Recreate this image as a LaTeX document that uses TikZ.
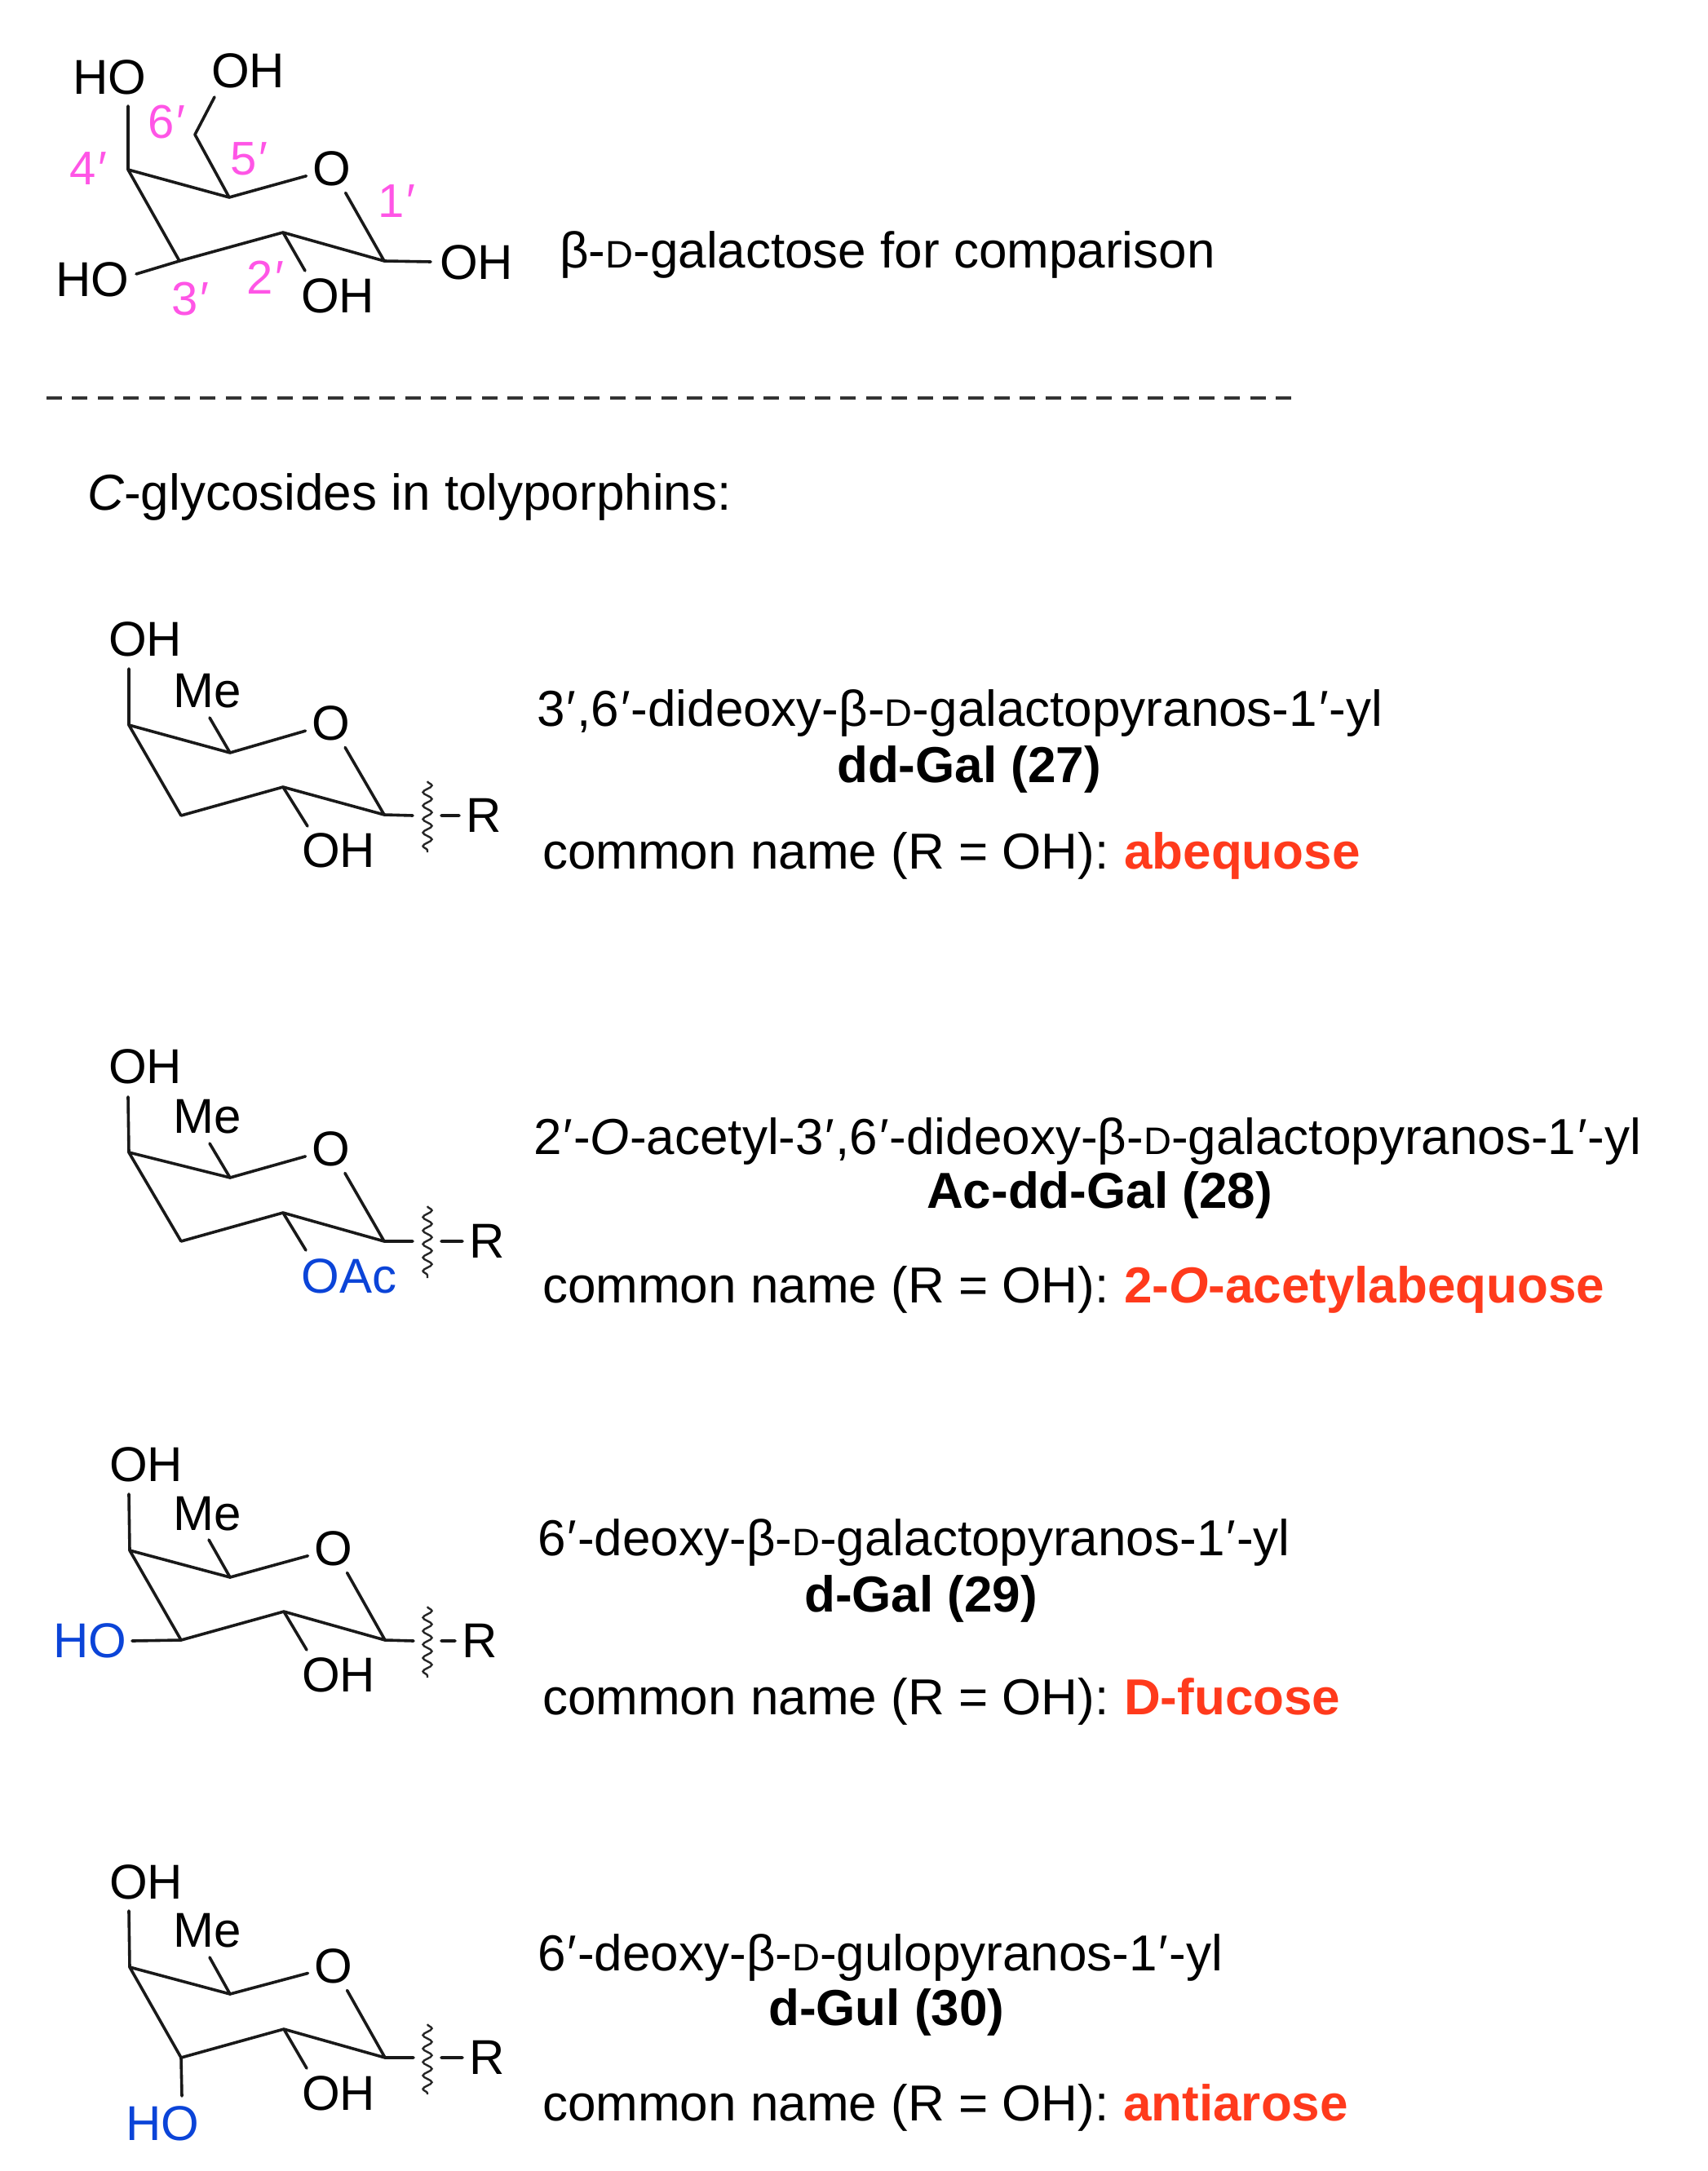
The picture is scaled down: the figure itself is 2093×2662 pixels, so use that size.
\documentclass[tikz,border=0pt]{standalone}
\usepackage{fontspec}
\setmainfont{Liberation Sans}
\usetikzlibrary{decorations.pathmorphing}
\definecolor{pinklab}{HTML}{FF55E6}
\definecolor{bluegrp}{HTML}{0B44D8}
\definecolor{redname}{HTML}{FF3A1C}
\newcommand{\sD}{{\fontsize{47}{50}\selectfont D}}
\newcommand{\pr}{\kern2pt′\kern1pt}
\newcommand{\sugarring}[1]{\draw[bond] (#1c3)--(#1c4)--(#1c5)--(#1o)--(#1c1)--(#1c2)--(#1c3);}
\tikzset{
  bond/.style={line width=3.6pt,line join=round,line cap=round,black!90},
  wavy/.style={line width=2.4pt,black!85,decorate,decoration={snake,segment length=16.5pt,amplitude=5.5pt}},
  atom/.style={inner sep=0pt,font=\fontsize{60}{66}\selectfont},
  ringo/.style={atom,inner sep=8pt},
  rgroup/.style={atom,inner sep=8pt},
  numlab/.style={inner sep=0pt,text=pinklab,font=\fontsize{58}{62}\selectfont},
  caption/.style={inner sep=0pt,anchor=base west,font=\fontsize{62}{68}\selectfont},
  boldcap/.style={caption,font=\fontsize{62}{68}\selectfont\bfseries},
  namecap/.style={caption,text=redname,font=\fontsize{62}{68}\selectfont\bfseries},
}
\begin{document}
\begin{tikzpicture}[x=1pt,y=-1pt]
\useasboundingbox (0,0) rectangle (2093,2662);
\fill[white] (0,0) rectangle (2093,2662);

% ---------- beta-D-galactose
\coordinate (ac4) at (157,208); \coordinate (ac5) at (281,242); \coordinate (ac1) at (471,320);
\coordinate (ac2) at (347,285); \coordinate (ac3) at (220,320); \coordinate (ac6) at (239,165);
\node[ringo] (ao) at (407,207) {O};
\node[atom] (ah4) at (134,95) {HO};
\node[atom] (ah6) at (304,87) {OH};
\node[atom] (ah1) at (584,322) {OH};
\node[atom] (ah3) at (113,343) {HO};
\node[atom] (ah2) at (414,363) {OH};
\coordinate (ae4) at (157,130); \coordinate (ae6) at (263,119); \coordinate (ae1) at (528,321);
\coordinate (ae3) at (167,336); \coordinate (ae2) at (374,332);
\sugarring{a}
\draw[bond] (ac4)--(ae4) (ac5)--(ac6)--(ae6) (ac1)--(ae1) (ac3)--(ae3) (ac2)--(ae2);
\node[numlab] (n6) at (205,150) {6\pr};
\node[numlab] (n5) at (306,195) {5\pr};
\node[numlab] (n4) at (109,207) {4\pr};
\node[numlab] (n1) at (487,247) {1\pr};
\node[numlab] (n2) at (326,340) {2\pr};
\node[numlab] (n3) at (234,367) {3\pr};
\node[caption] (tgal) at (686,329) {β-\sD-galactose for comparison};

% ---------- divider
\coordinate (dl) at (57,488); \coordinate (dr) at (1590,488);
\draw[line width=3.2pt,black!80,dash pattern=on 19pt off 12.4pt] (dl)--(dr);
\node[caption] (thead) at (107,625) {\textit{C}-glycosides in tolyporphins:};

% ---------- dd-Gal 27
\coordinate (bc4) at (158,889); \coordinate (bc5) at (282,923); \coordinate (bc1) at (471,999);
\coordinate (bc2) at (347,965); \coordinate (bc3) at (222,1000);
\node[ringo] (bo) at (406,887) {O};
\node[atom] (bh4) at (178,784) {OH};
\node[atom] (bme) at (254,847) {Me};
\node[atom] (bh2) at (415,1043) {OH};
\node[rgroup] (br) at (593,1000) {R};
\coordinate (be4) at (158,820); \coordinate (bem) at (257,880); \coordinate (be2) at (377,1013);
\coordinate (be1) at (506,1000); \coordinate (bd) at (541,1000);
\coordinate (bwt) at (524,958); \coordinate (bwb) at (524,1045);
\sugarring{b}
\draw[bond] (bc4)--(be4) (bc5)--(bem) (bc2)--(be2) (bc1)--(be1) (bd)--(br);
\draw[wavy] (bwt)--(bwb);
\node[caption] (bt1) at (658,890) {3\pr,6\pr-dideoxy-β-\sD-galactopyranos-1\pr-yl};
\node[boldcap] (bt2) at (1026,959) {dd-Gal (27)};
\node[caption] (bt3) at (665,1065) {common name (R = OH):};
\node[namecap] (bt4) at (1378,1065) {abequose};

% ---------- Ac-dd-Gal 28
\coordinate (cc4) at (158,1413); \coordinate (cc5) at (282,1444); \coordinate (cc1) at (471,1522);
\coordinate (cc2) at (347,1487); \coordinate (cc3) at (222,1522);
\node[ringo] (co) at (406,1409) {O};
\node[atom] (ch4) at (178,1308) {OH};
\node[atom] (cme) at (254,1369) {Me};
\node[atom,text=bluegrp] (cac) at (428,1565) {OAc};
\node[rgroup] (cr) at (597,1522) {R};
\coordinate (ce4) at (157,1345); \coordinate (cem) at (257,1402); \coordinate (ce2) at (375,1533);
\coordinate (ce1) at (506,1522); \coordinate (cd) at (541,1522);
\coordinate (cwt) at (524,1479); \coordinate (cwb) at (524,1567);
\sugarring{c}
\draw[bond] (cc4)--(ce4) (cc5)--(cem) (cc2)--(ce2) (cc1)--(ce1) (cd)--(cr);
\draw[wavy] (cwt)--(cwb);
\node[caption] (ct1) at (654,1415) {2\pr-\textit{O}-acetyl-3\pr,6\pr-dideoxy-β-\sD-galactopyranos-1\pr-yl};
\node[boldcap] (ct2) at (1136,1481) {Ac-dd-Gal (28)};
\node[caption] (ct3) at (665,1597) {common name (R = OH):};
\node[namecap] (ct4) at (1378,1597) {2-\textit{O}-acetylabequose};

% ---------- d-Gal 29
\coordinate (dc4) at (159,1901); \coordinate (dc5) at (282,1934); \coordinate (dc1) at (472,2011);
\coordinate (dc2) at (348,1976); \coordinate (dc3) at (222,2011);
\node[ringo] (do) at (409,1899) {O};
\node[atom] (dh4) at (179,1796) {OH};
\node[atom] (dme) at (254,1856) {Me};
\node[atom,text=bluegrp] (dh3) at (110,2012) {HO};
\node[atom] (dh2) at (415,2054) {OH};
\node[rgroup] (dr) at (588,2012) {R};
\coordinate (de4) at (158,1832); \coordinate (dem) at (256,1888); \coordinate (de2) at (376,2023);
\coordinate (de3) at (162,2012); \coordinate (de1) at (507,2012); \coordinate (dd) at (541,2012);
\coordinate (dwt) at (524,1970); \coordinate (dwb) at (524,2057);
\sugarring{d}
\draw[bond] (dc4)--(de4) (dc5)--(dem) (dc2)--(de2) (dc3)--(de3) (dc1)--(de1) (dd)--(dr);
\draw[wavy] (dwt)--(dwb);
\node[caption] (dt1) at (659,1907) {6\pr-deoxy-β-\sD-galactopyranos-1\pr-yl};
\node[boldcap] (dt2) at (986,1976) {d-Gal (29)};
\node[caption] (dt3) at (665,2102) {common name (R = OH):};
\node[namecap] (dt4) at (1378,2102) {D-fucose};

% ---------- d-Gul 30
\coordinate (ec4) at (159,2412); \coordinate (ec5) at (282,2445); \coordinate (ec1) at (472,2523);
\coordinate (ec2) at (348,2488); \coordinate (ec3) at (222,2523);
\node[ringo] (eo) at (409,2411) {O};
\node[atom] (eh4) at (179,2308) {OH};
\node[atom] (eme) at (254,2367) {Me};
\node[atom,text=bluegrp] (eh3) at (199,2604) {HO};
\node[atom] (eh2) at (415,2567) {OH};
\node[rgroup] (er) at (597,2523) {R};
\coordinate (ee4) at (158,2343); \coordinate (eem) at (257,2400); \coordinate (ee2) at (376,2536);
\coordinate (ee3) at (223,2570); \coordinate (ee1) at (507,2523); \coordinate (ed) at (541,2523);
\coordinate (ewt) at (524,2482); \coordinate (ewb) at (524,2568);
\sugarring{e}
\draw[bond] (ec4)--(ee4) (ec5)--(eem) (ec2)--(ee2) (ec3)--(ee3) (ec1)--(ee1) (ed)--(er);
\draw[wavy] (ewt)--(ewb);
\node[caption] (et1) at (659,2416) {6\pr-deoxy-β-\sD-gulopyranos-1\pr-yl};
\node[boldcap] (et2) at (942,2483) {d-Gul (30)};
\node[caption] (et3) at (665,2600) {common name (R = OH):};
\node[namecap] (et4) at (1377,2600) {antiarose};
\end{tikzpicture}
\end{document}
